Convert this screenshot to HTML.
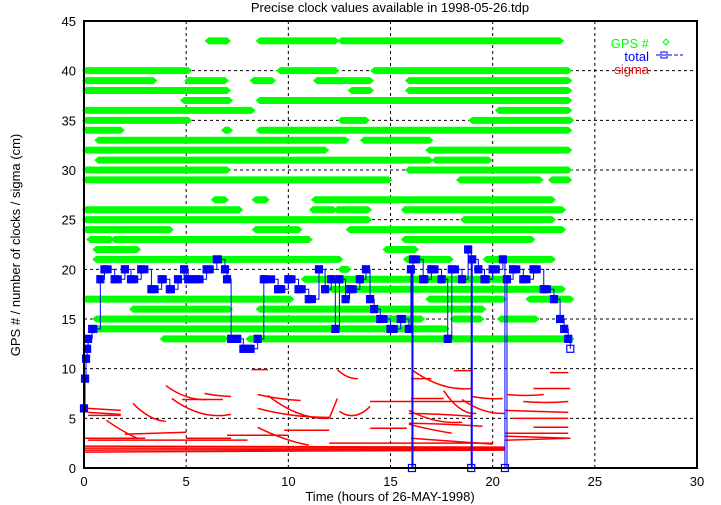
<!DOCTYPE html>
<html><head><meta charset="utf-8"><style>
html,body{margin:0;padding:0;background:#fff;}
svg{display:block;font-family:"Liberation Sans",sans-serif;}
</style></head><body>
<svg id="chart" width="721" height="505" viewBox="0 0 721 505" xmlns="http://www.w3.org/2000/svg">
<text x="390" y="12" font-size="13" text-anchor="middle">Precise clock values available in 1998-05-26.tdp</text>
<g id="grid"></g>
<g id="green"></g>
<g id="red"></g>
<g id="blue"></g>
<g id="axes"></g>
<text x="390" y="501" font-size="13" text-anchor="middle">Time (hours of 26-MAY-1998)</text>
<text transform="translate(20,245) rotate(-90)" font-size="13" text-anchor="middle">GPS # / number of clocks / sigma (cm)</text>
<g>
<text x="649" y="48" font-size="13" fill="#00ff00" text-anchor="end">GPS #</text>
<path d="M666 39 L669 42 L666 45 L663 42 Z" fill="none" stroke="#00ff00"/>
<text x="649" y="61" font-size="13" fill="#0000ff" text-anchor="end">total</text>
<line x1="656" y1="55" x2="683" y2="55" stroke="#0000ff" stroke-dasharray="4,2"/>
<rect x="661" y="52" width="6" height="6" fill="none" stroke="#0000ff"/>
<text x="649" y="74" font-size="13" fill="#ff0000" text-anchor="end">sigma</text>
</g>
</svg>
<script>
// GPS PRN availability: [prn, startHour, endHour]
const gpsPrn = [43,43,43,40,40,40,39,39,39,39,39,38,38,38,37,37,36,36,35,35,35,34,34,34,33,33,32,32,31,31,30,30,29,29,29,27,27,27,26,26,26,26,25,25,24,24,24,23,23,23,22,22,21,21,21,20,19,18,17,17,17,16,16,15,15,15,14,13,13];
const gpsStart = [6.0,8.5,12.5,0,9.5,14.1,0,5.0,8.2,11.3,15.8,0,13.0,15.8,4.8,8.5,0,20.2,0,12.5,18.9,0,6.8,8.5,0.6,13.6,0,16.8,0.6,17.1,0,15.8,0,18.3,22.8,6.3,8.3,11.2,0,11.1,12.3,15.6,0,18.5,0,8.3,12.9,0.2,1.4,15.6,0.5,14.7,0.5,15.7,19.6,12.5,10.7,12.0,0,16.8,21.7,2.3,8.5,0.5,18.0,20.3,0.3,3.8,8.0];
const gpsEnd = [7.1,12.4,23.4,5.2,12.4,23.8,3.5,7.0,9.3,14.1,23.8,7.1,14.1,23.8,7.2,23.8,8.3,23.8,5.2,13.9,23.9,1.9,7.2,23.8,12.9,17.0,11.9,23.8,17.0,19.9,7.1,23.8,15.0,22.4,23.8,7.0,9.0,23.0,7.7,12.3,14.0,23.5,14.0,23.0,4.3,10.6,23.5,1.4,11.1,22.0,2.7,16.3,12.6,18.0,23.0,13.0,20.8,23.5,10.2,20.6,23.9,7.2,19.6,16.6,19.5,22.2,17.8,7.0,23.9];
// total number of clocks (step values)
const totalT = [0,0.05,0.1,0.15,0.2,0.4,0.8,1.0,1.5,2.0,2.3,2.8,3.3,3.8,4.2,4.6,4.9,5.1,5.5,6.0,6.5,6.9,7.0,7.2,7.5,7.8,8.1,8.5,8.8,9.5,10.0,10.5,11.0,11.5,11.8,12.1,12.3,12.5,12.8,13.0,13.5,13.8,14.0,14.2,14.5,15.0,15.5,15.9,16.0,16.05,16.1,16.6,17.0,17.5,17.8,18.0,18.5,18.8,18.95,19.0,19.3,19.6,20.0,20.5,20.6,20.7,21.0,21.5,22.0,22.5,23.0,23.3,23.5,23.7,23.8];
const totalN = [6,9,11,12,13,14,19,20,19,20,19,20,18,19,18,19,20,19,19,20,21,20,19,13,13,12,12,13,19,18,19,18,17,20,18,19,14,19,17,18,19,20,17,16,15,14,15,14,20,0,21,19,20,19,13,20,19,22,0,21,20,19,20,21,0,19,20,19,20,18,17,15,14,13,12];
// sigma traces: start hour, end hour, start value, mid value, end value
const sigT0 = [0,0,0,0,20.6,20.6,0.2,0,2.0,5.0,7.0,12.0,9.8,14.0,16.0,16.0,18.1,8.2,15.9,15.9,14.0,4.8,20.7,22.0,22.8,21.5,20.6,21.0,22.0,20.6,0.2,0.2,0.2,1.1,2.4,4.0,4.3,5.9,8.5,9.0,12.0,8.5,8.5,12.5,12.4,16.1,17.6,15.9,15.9,18.5,16.0,19.0];
const sigT1 = [20.6,20.6,20.6,20.6,23.8,23.8,8.0,3.0,5.0,7.2,10.0,20.0,12.0,15.8,17.6,17.0,19.0,9.0,19.5,19.0,19.0,6.8,22.5,23.8,23.7,23.7,23.7,23.7,23.7,23.7,1.8,1.8,1.8,2.6,4.0,6.0,7.2,7.2,10.6,12.0,12.4,12.0,11.0,14.0,13.4,19.0,19.2,18.5,18.0,20.6,20.0,20.5];
const sigV0 = [1.6,1.8,2.0,2.2,2.8,3.2,2.8,3.0,3.4,3.0,3.3,2.5,3.8,4.0,7.0,9.0,9.8,9.9,4.5,5.5,6.7,6.9,7.4,8.0,9.6,6.7,5.8,5.0,4.1,3.5,6.0,5.6,5.3,4.8,6.5,8.3,7.0,7.5,7.4,7.3,5.0,6.0,4.1,5.7,9.9,9.8,7.8,5.8,4.4,6.9,3.0,7.2];
const sigVm = [1.7,1.85,2.0,2.15,2.9,3.1,2.8,3.0,3.5,3.0,3.3,2.5,3.8,4.0,7.0,9.0,9.8,9.9,4.4,5.4,6.7,6.9,7.3,8.0,9.6,6.6,5.7,5.0,4.1,3.5,5.9,5.5,5.3,3.8,5.2,7.2,5.5,7.3,7.0,5.5,6.0,5.3,3.0,5.3,9.2,8.3,6.0,4.8,3.9,5.8,2.7,7.0];
const sigV1 = [1.8,1.9,2.0,2.1,3.0,3.0,2.8,3.0,3.6,3.0,3.3,2.5,3.8,4.0,7.0,9.0,9.8,9.9,4.2,5.2,6.7,6.9,7.4,8.0,9.6,6.7,5.6,5.0,4.1,3.5,5.8,5.4,5.3,3.0,4.7,6.9,5.4,7.2,6.8,5.0,7.0,5.1,2.3,6.2,9.0,8.0,5.5,4.6,3.5,5.5,2.4,7.0];
const xTicks = [0,5,10,15,20,25,30];
const yTicks = [0,5,10,15,20,25,30,35,40,45];

const NS='http://www.w3.org/2000/svg';
const X0=84,X1=697,Y0=468,Y1=21;
function sx(t){return X0+(X1-X0)*t/30;}
function sy(v){return Y0-(Y0-Y1)*v/45;}
function mk(tag,attrs,parent){const e=document.createElementNS(NS,tag);for(const k in attrs)e.setAttribute(k,attrs[k]);parent.appendChild(e);return e;}
const grid=document.getElementById('grid'),axes=document.getElementById('axes');
const green=document.getElementById('green'),red=document.getElementById('red'),blue=document.getElementById('blue');

xTicks.forEach(t=>{
  if(t>0&&t<30){const g=mk('line',{x1:sx(t),x2:sx(t),y1:Y0,y2:Y1,stroke:'#000','stroke-dasharray':'3,3','stroke-width':1},grid);
  
  }
  const l=mk('text',{x:sx(t),y:Y0+18,'font-size':13,'text-anchor':'middle'},axes);l.textContent=t;
  
  
});
yTicks.forEach(v=>{
  if(v>0&&v<45){const g=mk('line',{x1:X0,x2:X1,y1:sy(v),y2:sy(v),stroke:'#000','stroke-dasharray':'3,3','stroke-width':1},grid);
  
  }
  const l=mk('text',{x:X0-8,y:sy(v)+5,'font-size':13,'text-anchor':'end'},axes);l.textContent=v;
  
  
});
const fr=mk('rect',{x:X0,y:Y1,width:X1-X0,height:Y0-Y1,fill:'none',stroke:'#000','stroke-width':2},axes);



for(let i=0;i<gpsPrn.length;i++){
  const a=sx(gpsStart[i]),b=sx(gpsEnd[i]),y=sy(gpsPrn[i]);
  const p=mk('path',{d:`M${a-2} ${y} L${a+2} ${y-3.5} L${b-2} ${y-3.5} L${b+2} ${y} L${b-2} ${y+3.5} L${a+2} ${y+3.5} Z`,fill:'#00ff00'},green);
  
  
}

for(let i=0;i<sigT0.length;i++){
  const a=sx(sigT0[i]),b=sx(sigT1[i]);
  const ym=sy(sigVm[i]),y0=sy(sigV0[i]),y1=sy(sigV1[i]);
  const cy=2*ym-(y0+y1)/2;
  const p=mk('path',{d:`M${a} ${y0} Q${(a+b)/2} ${cy} ${b} ${y1}`,fill:'none',stroke:'#ff0000','stroke-width':1.5},red);
  
  
}

let d='';
for(let i=0;i<totalT.length;i++){
  const x=sx(totalT[i]),y=sy(totalN[i]);
  d+=(i?` L${x} ${sy(totalN[i-1])} L${x} ${y}`:`M${x} ${y}`);
}
const bl=mk('path',{d:d,fill:'none',stroke:'#0000ff','stroke-width':1},blue);


for(let i=0;i<totalT.length-1;i++){
  if(totalN[i]===0)continue;
  const a=sx(totalT[i]),b=sx(totalT[i+1]),y=sy(totalN[i]);
  const r=mk('rect',{x:a-3,y:y-4,width:Math.max(b-a,6),height:8,fill:'#0000ff'},blue);
  
  
}
for(let i=0;i<totalT.length;i++){
  const x=sx(totalT[i]),y=sy(totalN[i]);
  const r=mk('rect',{x:x-3.5,y:y-3.5,width:7,height:7,fill:'none',stroke:'#0000ff','stroke-width':1.2},blue);
  
  
}
</script>
</body></html>
